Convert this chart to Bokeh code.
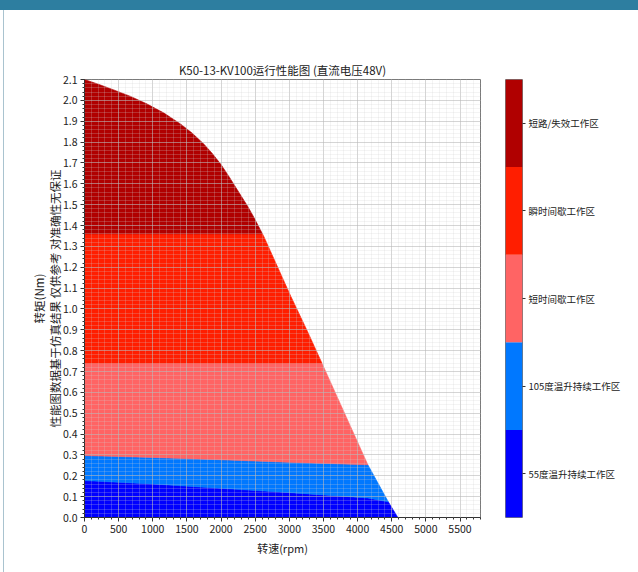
import numpy as np
from bokeh.plotting import figure
from bokeh.models import FixedTicker, PrintfTickFormatter, LinearAxis, Div, Range1d
from bokeh.layouts import row
from bokeh.embed import file_html
from bokeh.resources import INLINE

# ---------------- data ----------------
title_text = "K50-13-KV100运行性能图 (直流电压48V)"
x_label = "转速(rpm)"
y_label = "转矩(Nm)\n性能图数据基于仿真结果 仅供参考 对准确性无保证"

# outer envelope (max torque vs speed)
env_rpm = [0, 215, 430, 675, 920, 1165, 1410, 1580, 1750, 1875, 2000, 2120, 2240, 2390, 2480, 2630,
           3020, 3265, 3460, 4150, 4450, 4590]
env_torque = [2.100, 2.076, 2.050, 2.019, 1.982, 1.939, 1.886, 1.842, 1.790, 1.744, 1.692, 1.633, 1.570,
              1.492, 1.440, 1.345, 1.062, 0.893, 0.753, 0.253, 0.075, 0.0]

# upper limit of the 55-degree continuous zone
b55_rpm = [0, 1000, 2000, 3070, 4150, 4450]
b55_torque = [0.177, 0.161, 0.140, 0.118, 0.094, 0.075]

# upper limit of the 105-degree continuous zone
b105_rpm = [0, 1000, 2000, 3070, 4150]
b105_torque = [0.297, 0.288, 0.277, 0.264, 0.253]

# flat limits of the intermittent zones
short_limit = 0.74
instant_limit = 1.36

zone_names = ["55度温升持续工作区", "105度温升持续工作区", "短时间歇工作区", "瞬时间歇工作区", "短路/失效工作区"]
zone_colors = ["#0000ff", "#0078ff", "#ff6464", "#ff1e00", "#b00000"]

x_ticks = list(range(0, 5501, 500))
x_minor = list(range(0, 5801, 100))
y_ticks = [round(i * 0.1, 1) for i in range(22)]
y_minor = [round(i * 0.02, 2) for i in range(106)]

FONT = "Noto Sans CJK SC"

# ---------------- geometry helpers ----------------
er = np.array(env_rpm, dtype=float)
et = np.array(env_torque, dtype=float)


def level_line(level):
    x_end = float(np.interp(level, et[::-1], er[::-1]))
    return [0.0, x_end], [level, level]


def band(lower, upper):
    lx, ly = list(lower[0]), list(lower[1])
    ux, uy = list(upper[0]), list(upper[1])
    lo_end, up_end = ly[-1], uy[-1]
    mid = [(x, t) for x, t in zip(env_rpm, env_torque) if lo_end < t < up_end]
    mid = mid[::-1]
    xs = lx + [m[0] for m in mid] + ux[::-1]
    ys = ly + [m[1] for m in mid] + uy[::-1]
    return xs, ys


bottom_line = ([0.0, env_rpm[-1]], [0.0, env_torque[-1]])
top_point = ([env_rpm[0]], [env_torque[0]])
lines = [bottom_line, (b55_rpm, b55_torque), (b105_rpm, b105_torque),
         level_line(short_limit), level_line(instant_limit), top_point]

poly_xs, poly_ys = [], []
for i in range(5):
    xs, ys = band(lines[i], lines[i + 1])
    poly_xs.append(xs)
    poly_ys.append(ys)

# ---------------- main figure ----------------
p = figure(frame_width=396, frame_height=438, x_range=Range1d(0, 5800), y_range=Range1d(0, 2.1),
           output_backend="svg", toolbar_location=None,
           min_border_left=84, min_border_right=17, min_border_top=79, min_border_bottom=48,
           title=title_text)
p.background_fill_color = "white"
p.border_fill_color = "white"
p.outline_line_color = "#7a7a7a"

p.patches(xs=poly_xs, ys=poly_ys, fill_color=zone_colors, line_color=zone_colors, line_width=0.6)

p.title.text_font = FONT
p.title.text_font_size = "11.5px"
p.title.text_font_style = "normal"
p.title.align = "center"
p.title.text_color = "#222222"
p.title.standoff = 3

p.xaxis.ticker = FixedTicker(ticks=x_ticks, minor_ticks=x_minor)
p.yaxis.ticker = FixedTicker(ticks=y_ticks, minor_ticks=y_minor)
p.yaxis.formatter = PrintfTickFormatter(format="%.1f")

for ax in (p.xaxis, p.yaxis):
    ax.major_label_text_font = FONT
    ax.major_label_text_font_size = "10.5px"
    ax.major_label_text_color = "#222222"
    ax.axis_label_text_font = FONT
    ax.axis_label_text_font_style = "normal"
    ax.axis_label_text_color = "#222222"
    ax.axis_label_text_line_height = 1.0
    ax.axis_line_color = "#333333"
    ax.major_tick_line_color = "#333333"
    ax.minor_tick_line_color = "#333333"
    ax.major_tick_out = 4
    ax.major_tick_in = 0
    ax.minor_tick_out = 2
    ax.minor_tick_in = 0
    ax.major_label_standoff = 3

p.xaxis.axis_label_text_font_size = "11px"
p.yaxis.axis_label_text_font_size = "11.5px"
p.xaxis.axis_label_standoff = 4
p.yaxis.axis_label_standoff = -3
p.xaxis.axis_label = x_label
p.yaxis.axis_label = y_label

for g in (p.xgrid, p.ygrid):
    g.grid_line_color = "#b4b4b4"
    g.grid_line_alpha = 0.6
    g.grid_line_width = 0.8
    g.minor_grid_line_color = "#d0d0d0"
    g.minor_grid_line_alpha = 0.4
    g.minor_grid_line_width = 0.6
    g.level = "overlay"

# ---------------- colour bar figure ----------------
p2 = figure(frame_width=17, frame_height=438, x_range=Range1d(0, 1), y_range=Range1d(0, 10),
            output_backend="svg", toolbar_location=None,
            x_axis_location=None, y_axis_location=None,
            min_border_left=8, min_border_right=20, min_border_top=79, min_border_bottom=48)
p2.grid.visible = False
p2.outline_line_color = "#7a7a7a"
p2.background_fill_color = "white"
p2.border_fill_color = "white"
p2.quad(left=0, right=1, bottom=[0, 2, 4, 6, 8], top=[2, 4, 6, 8, 10], fill_color=zone_colors, line_color=None)

cb_axis = LinearAxis(ticker=FixedTicker(ticks=[1, 3, 5, 7, 9]),
                     major_label_overrides={1: zone_names[0], 3: zone_names[1], 5: zone_names[2],
                                            7: zone_names[3], 9: zone_names[4]})
cb_axis.major_label_text_font = FONT
cb_axis.major_label_text_font_size = "9.5px"
cb_axis.major_label_text_color = "#222222"
cb_axis.axis_line_color = None
cb_axis.major_tick_line_color = "#333333"
cb_axis.major_tick_out = 3
cb_axis.major_tick_in = 0
cb_axis.minor_tick_line_color = None
cb_axis.major_label_standoff = 3
p2.add_layout(cb_axis, "right")

header = Div(text='<div style="position:fixed;left:0;top:0;width:638px;height:10px;background:#2d7ea0;z-index:50"></div>'
                  '<div style="position:fixed;left:3px;top:10px;width:1px;height:562px;background:#a9c3cf;z-index:50"></div>',
             width=0, height=0)

layout = row(p, p2, header)
open("out.html", "w").write(file_html(layout, INLINE))
